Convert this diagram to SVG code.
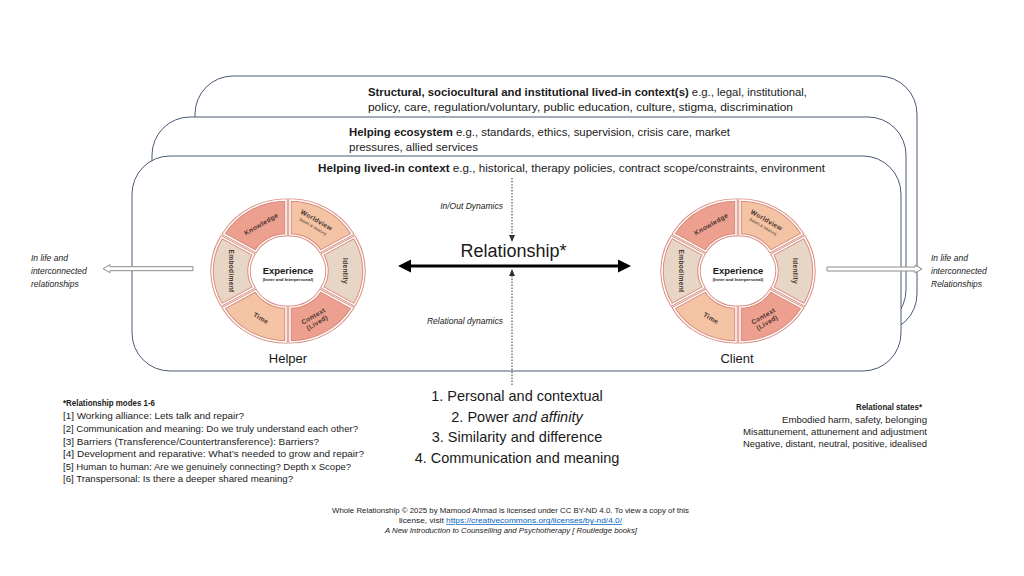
<svg xmlns="http://www.w3.org/2000/svg" xmlns:xlink="http://www.w3.org/1999/xlink" width="1024" height="576" viewBox="0 0 1024 576">
<style>
.t{font-family:"Liberation Sans",Arial,sans-serif;fill:#1a1a1a}
.box{fill:#fff;stroke:#4A5874;stroke-width:1}
.sa{stroke:#D98A7C;stroke-width:3.4}
.sb{fill:none;stroke:#fff;stroke-width:1.5}
.lab{font-family:"Liberation Sans",Arial,sans-serif;font-weight:bold;font-size:6.6px;fill:#4a3630;text-anchor:middle;letter-spacing:0.3px}
.sub{font-family:"Liberation Sans",Arial,sans-serif;font-size:3.8px;fill:#4a3630;text-anchor:middle}
.dot{stroke:#333;stroke-width:1;stroke-dasharray:1.5 1.5;fill:none}
.hol{fill:#fff;stroke:#8c8c8c;stroke-width:1}
</style>
<defs>
<path id="seg" d="M66.35,-36 A72,72 0 0 1 66.35,36 L34.31,17.5 A35,35 0 0 0 34.31,-17.5 Z"/>
<g id="ringShapes">
<use href="#seg" class="sa" fill="#E7D5C5"/>
<use href="#seg" class="sa" fill="#EDA08F" transform="rotate(60)"/>
<use href="#seg" class="sa" fill="#F3C3A3" transform="rotate(120)"/>
<use href="#seg" class="sa" fill="#E7D5C5" transform="rotate(180)"/>
<use href="#seg" class="sa" fill="#EDA08F" transform="rotate(240)"/>
<use href="#seg" class="sa" fill="#F3C3A3" transform="rotate(300)"/>
<use href="#seg" class="sb"/>
<use href="#seg" class="sb" transform="rotate(60)"/>
<use href="#seg" class="sb" transform="rotate(120)"/>
<use href="#seg" class="sb" transform="rotate(180)"/>
<use href="#seg" class="sb" transform="rotate(240)"/>
<use href="#seg" class="sb" transform="rotate(300)"/>
</g>
</defs>
<rect width="1024" height="576" fill="#fff"/>

<g id="context-structural">
<rect class="box" x="195" y="76" width="722" height="256" rx="38"/>
<text class="t" x="368" y="96" font-size="11" textLength="439" lengthAdjust="spacingAndGlyphs"><tspan font-weight="bold">Structural, sociocultural and institutional lived-in context(s)</tspan> e.g., legal, institutional,</text>
<text class="t" x="368" y="111" font-size="11" textLength="425" lengthAdjust="spacingAndGlyphs">policy, care, regulation/voluntary, public education, culture, stigma, discrimination</text>
</g>
<g id="context-ecosystem">
<rect class="box" x="152" y="117" width="754" height="211" rx="38"/>
<text class="t" x="349" y="136" font-size="11" textLength="381" lengthAdjust="spacingAndGlyphs"><tspan font-weight="bold">Helping ecosystem</tspan> e.g., standards, ethics, supervision, crisis care, market</text>
<text class="t" x="349" y="151" font-size="11" textLength="129" lengthAdjust="spacingAndGlyphs">pressures, allied services</text>
</g>
<g id="context-lived">
<rect class="box" x="132" y="156" width="769" height="215" rx="38"/>
<text class="t" x="318" y="172" font-size="11" textLength="507" lengthAdjust="spacingAndGlyphs"><tspan font-weight="bold">Helping lived-in context</tspan> e.g., historical, therapy policies, contract scope/constraints, environment</text>
</g>

<g id="helper">
<g transform="translate(288,271) scale(1,0.94)"><use href="#ringShapes"/></g>
<g transform="translate(288,271)">
<text class="t" x="0" y="3" font-size="9.5" font-weight="bold" text-anchor="middle">Experience</text>
<text class="t" x="0" y="10" font-size="4.3" font-weight="bold" text-anchor="middle">(Inner and Interpersonal)</text>
<text class="lab" transform="translate(57,0) rotate(90)" y="2.4">Identity</text>
<g transform="translate(27,48) rotate(-30)"><text class="lab" y="-1">Context</text><text class="lab" y="6.5">(Lived)</text></g>
<text class="lab" transform="translate(-27,47) rotate(30)" y="2.4">Time</text>
<text class="lab" transform="translate(-57,0) rotate(90)" y="2.4">Embodiment</text>
<text class="lab" transform="translate(-27,-47) rotate(-30)" y="2.4">Knowledge</text>
<g transform="translate(27,-48) rotate(30)"><text class="lab" y="-1">Worldview</text><text class="sub" y="5.5">Beliefs &amp; Meaning</text></g>
</g>
<text class="t" x="288" y="363" font-size="13" text-anchor="middle">Helper</text>
</g>

<g id="client">
<g transform="translate(738,271) scale(1,0.94)"><use href="#ringShapes"/></g>
<g transform="translate(738,271)">
<text class="t" x="0" y="3" font-size="9.5" font-weight="bold" text-anchor="middle">Experience</text>
<text class="t" x="0" y="10" font-size="4.3" font-weight="bold" text-anchor="middle">(Inner and Interpersonal)</text>
<text class="lab" transform="translate(57,0) rotate(90)" y="2.4">Identity</text>
<g transform="translate(27,48) rotate(-30)"><text class="lab" y="-1">Context</text><text class="lab" y="6.5">(Lived)</text></g>
<text class="lab" transform="translate(-27,47) rotate(30)" y="2.4">Time</text>
<text class="lab" transform="translate(-57,0) rotate(90)" y="2.4">Embodiment</text>
<text class="lab" transform="translate(-27,-47) rotate(-30)" y="2.4">Knowledge</text>
<g transform="translate(27,-48) rotate(30)"><text class="lab" y="-1">Worldview</text><text class="sub" y="5.5">Beliefs &amp; Meaning</text></g>
</g>
<text class="t" x="737" y="363" font-size="13" text-anchor="middle">Client</text>
</g>

<g id="connectors">
<line class="dot" x1="512" y1="178" x2="512" y2="236"/>
<polygon points="509,235 515,235 512,242" fill="#333"/>
<line class="dot" x1="512" y1="385" x2="512" y2="275"/>
<polygon points="509,276 515,276 512,269" fill="#333"/>
<line x1="408" y1="266" x2="621" y2="266" stroke="#000" stroke-width="3.2"/>
<polygon points="398,266 411,259.5 411,272.5" fill="#000"/>
<polygon points="631,266 618,259.5 618,272.5" fill="#000"/>
<polygon class="hol" points="193,266.7 110,266.7 110,264.7 103,268.7 110,272.7 110,270.7 193,270.7"/>
<polygon class="hol" points="827,267 915,267 915,265 922,269 915,273 915,271 827,271"/>
</g>

<g id="labels-center">
<text class="t" x="503" y="209" font-size="8.5" font-style="italic" text-anchor="end">In/Out Dynamics</text>
<text class="t" x="513.5" y="257" font-size="18" text-anchor="middle">Relationship*</text>
<text class="t" x="503" y="324" font-size="8.5" font-style="italic" text-anchor="end">Relational dynamics</text>
</g>

<g id="in-life-left">
<text class="t" x="31" y="261" font-size="8.5" font-style="italic">In life and</text>
<text class="t" x="31" y="274" font-size="8.5" font-style="italic">interconnected</text>
<text class="t" x="31" y="287" font-size="8.5" font-style="italic">relationships</text>
</g>
<g id="in-life-right">
<text class="t" x="931" y="261" font-size="8.5" font-style="italic">In life and</text>
<text class="t" x="931" y="274" font-size="8.5" font-style="italic">interconnected</text>
<text class="t" x="931" y="287" font-size="8.5" font-style="italic">Relationships</text>
</g>

<g id="modes-list">
<text class="t" x="517" y="401" font-size="14.5" text-anchor="middle">1. Personal and contextual</text>
<text class="t" x="517" y="422" font-size="14.5" text-anchor="middle">2. Power <tspan font-style="italic">and affinity</tspan></text>
<text class="t" x="517" y="442" font-size="14.5" text-anchor="middle">3. Similarity and difference</text>
<text class="t" x="517" y="463" font-size="14.5" text-anchor="middle">4. Communication and meaning</text>
</g>

<g id="relationship-modes">
<text class="t" x="63" y="406" font-size="9.5" font-weight="bold" textLength="92" lengthAdjust="spacingAndGlyphs">*Relationship modes 1-6</text>
<text class="t" x="63" y="419" font-size="9.5" textLength="181" lengthAdjust="spacingAndGlyphs">[1] Working alliance: Lets talk and repair?</text>
<text class="t" x="63" y="432" font-size="9.5" textLength="295" lengthAdjust="spacingAndGlyphs">[2] Communication and meaning: Do we truly understand each other?</text>
<text class="t" x="63" y="445" font-size="9.5" textLength="256" lengthAdjust="spacingAndGlyphs">[3] Barriers (Transference/Countertransference): Barriers?</text>
<text class="t" x="63" y="457" font-size="9.5" textLength="301" lengthAdjust="spacingAndGlyphs">[4] Development and reparative: What’s needed to grow and repair?</text>
<text class="t" x="63" y="470" font-size="9.5" textLength="288" lengthAdjust="spacingAndGlyphs">[5] Human to human: Are we genuinely connecting? Depth x Scope?</text>
<text class="t" x="63" y="482" font-size="9.5" textLength="230" lengthAdjust="spacingAndGlyphs">[6] Transpersonal: Is there a deeper shared meaning?</text>
</g>

<g id="relational-states">
<text class="t" x="922" y="410" font-size="9" font-weight="bold" text-anchor="end" textLength="66" lengthAdjust="spacingAndGlyphs">Relational states*</text>
<text class="t" x="927" y="423" font-size="9" text-anchor="end" textLength="145" lengthAdjust="spacingAndGlyphs">Embodied harm, safety, belonging</text>
<text class="t" x="927" y="435" font-size="9" text-anchor="end" textLength="184" lengthAdjust="spacingAndGlyphs">Misattunement, attunement and adjustment</text>
<text class="t" x="927" y="447" font-size="9" text-anchor="end" textLength="184" lengthAdjust="spacingAndGlyphs">Negative, distant, neutral, positive, idealised</text>
</g>

<g id="credits">
<text class="t" x="510.5" y="513" font-size="7.3" text-anchor="middle" textLength="357" lengthAdjust="spacingAndGlyphs">Whole Relationship © 2025 by Mamood Ahmad is licensed under CC BY-ND 4.0. To view a copy of this</text>
<text class="t" x="399" y="523" font-size="7.3" textLength="223" lengthAdjust="spacingAndGlyphs">license, visit <tspan fill="#0563C1" text-decoration="underline">https://creativecommons.org/licenses/by-nd/4.0/</tspan></text>
<text class="t" x="511" y="533" font-size="7.3" font-style="italic" text-anchor="middle" textLength="252" lengthAdjust="spacingAndGlyphs">A New Introduction to Counselling and Psychotherapy [ Routledge books]</text>
</g>
</svg>
